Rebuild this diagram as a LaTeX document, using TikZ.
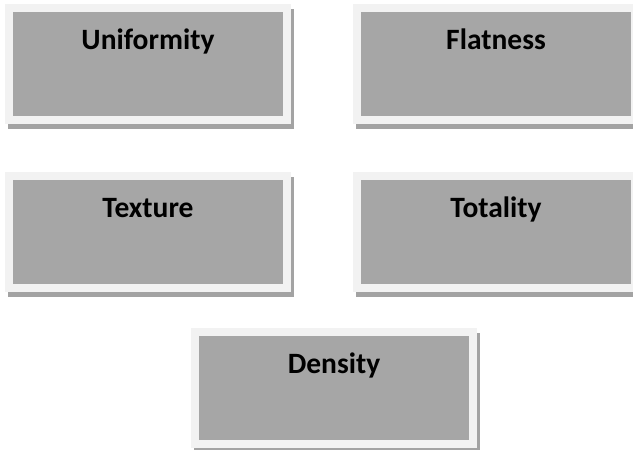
\documentclass[tikz,border=0pt]{standalone}
\usepackage{fontspec}
\setmainfont{Carlito}
\usetikzlibrary{shadows}
\definecolor{framegray}{HTML}{F2F2F2}
\definecolor{panelgray}{HTML}{A6A6A6}
\definecolor{shadowgray}{HTML}{A3A3A3}

\begin{document}
\begin{tikzpicture}[
  x=1pt, y=-1pt,
  every node/.style = {font=\bfseries\fontsize{29.5}{34}\selectfont},
  frame/.style = {fill=framegray, minimum width=286pt, minimum height=120pt, inner sep=0pt,
    drop shadow={shadow xshift=2.5pt, shadow yshift=-5pt, fill=shadowgray, opacity=1}},
  panel/.style = {fill=panelgray, minimum width=270pt, minimum height=104pt, inner sep=0pt},
  title/.style = {anchor=base, inner sep=0pt},
]

\useasboundingbox (0,0) rectangle (633,450);

% ── Boxes: frame, grey panel, title ─────────────────────────────────────────
\foreach \name/\cx/\cy/\txt in {unif/148/64/Uniformity, flat/496/64/Flatness,
    textu/148/232/Texture, total/496/232/Totality, dens/334/388/Density} {
  \node[frame] (\name) at (\cx,\cy) {};
  \node[panel] (\name-in) at (\name) {};
  \node[title] (\name-lbl) at ([yshift=-46pt]\name.north) {\txt};
}

\end{tikzpicture}
\end{document}
